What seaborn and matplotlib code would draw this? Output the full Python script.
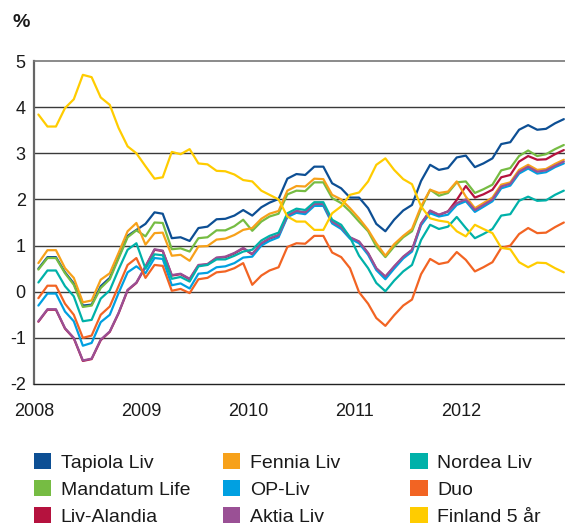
import numpy as np
import pandas as pd
import seaborn as sns
import matplotlib
matplotlib.use("Agg")
import matplotlib.pyplot as plt
from matplotlib.patches import Patch

# ---- data (monthly, Jan 2008 - Dec 2012), % ----
tapiola = [0.50, 0.75, 0.75, 0.42, 0.18, -0.30, -0.28, 0.12, 0.30, 0.75, 1.21, 1.34,
           1.47, 1.72, 1.69, 1.16, 1.18, 1.10, 1.38, 1.41, 1.57, 1.58, 1.65, 1.77,
           1.65, 1.83, 1.93, 2.01, 2.45, 2.55, 2.53, 2.71, 2.71, 2.35, 2.24, 2.04,
           2.04, 1.81, 1.47, 1.31, 1.56, 1.76, 1.88, 2.40, 2.75, 2.64, 2.68, 2.91,
           2.95, 2.70, 2.78, 2.89, 3.20, 3.24, 3.51, 3.61, 3.51, 3.53, 3.65, 3.74]
mandatum = [0.48, 0.73, 0.73, 0.40, 0.15, -0.33, -0.30, 0.08, 0.27, 0.72, 1.18, 1.33,
            1.20, 1.50, 1.49, 0.92, 0.94, 0.87, 1.16, 1.18, 1.33, 1.33, 1.42, 1.56,
            1.32, 1.52, 1.63, 1.69, 2.11, 2.19, 2.18, 2.37, 2.37, 2.03, 1.92, 1.74,
            1.52, 1.31, 0.98, 0.75, 0.98, 1.18, 1.31, 1.80, 2.21, 2.08, 2.14, 2.37,
            2.39, 2.14, 2.22, 2.32, 2.63, 2.68, 2.94, 3.06, 2.94, 2.98, 3.09, 3.18]
alandia = [-0.65, -0.39, -0.39, -0.80, -1.01, -1.50, -1.46, -1.05, -0.87, -0.47, 0.03, 0.19,
           0.54, 0.91, 0.88, 0.35, 0.38, 0.27, 0.57, 0.59, 0.73, 0.75, 0.83, 0.94,
           0.81, 1.04, 1.15, 1.22, 1.64, 1.74, 1.71, 1.89, 1.89, 1.51, 1.39, 1.17,
           1.08, 0.83, 0.50, 0.32, 0.54, 0.75, 0.90, 1.47, 1.75, 1.66, 1.74, 1.99,
           2.29, 2.04, 2.11, 2.21, 2.48, 2.53, 2.82, 2.94, 2.86, 2.87, 2.98, 3.07]
fennia = [0.62, 0.90, 0.90, 0.51, 0.30, -0.23, -0.19, 0.26, 0.40, 0.84, 1.31, 1.49,
          1.02, 1.27, 1.28, 0.78, 0.80, 0.67, 0.98, 0.99, 1.13, 1.15, 1.23, 1.34,
          1.38, 1.58, 1.69, 1.75, 2.19, 2.29, 2.28, 2.45, 2.44, 2.10, 2.00, 1.81,
          1.59, 1.34, 1.05, 0.78, 1.03, 1.21, 1.36, 1.85, 2.21, 2.14, 2.17, 2.39,
          2.06, 1.81, 1.92, 2.04, 2.32, 2.37, 2.64, 2.75, 2.64, 2.66, 2.77, 2.86]
op_liv = [-0.30, -0.04, -0.04, -0.43, -0.64, -1.17, -1.11, -0.66, -0.50, -0.03, 0.42, 0.55,
          0.40, 0.73, 0.71, 0.14, 0.18, 0.07, 0.39, 0.41, 0.53, 0.55, 0.62, 0.74,
          0.76, 1.00, 1.10, 1.18, 1.62, 1.71, 1.68, 1.86, 1.86, 1.48, 1.36, 1.15,
          1.05, 0.80, 0.47, 0.27, 0.50, 0.72, 0.87, 1.44, 1.70, 1.63, 1.67, 1.88,
          1.96, 1.73, 1.84, 1.96, 2.24, 2.30, 2.56, 2.67, 2.56, 2.59, 2.70, 2.78]
aktia = [-0.64, -0.38, -0.38, -0.79, -1.00, -1.49, -1.45, -1.04, -0.86, -0.46, 0.04, 0.20,
         0.55, 0.92, 0.89, 0.36, 0.39, 0.28, 0.58, 0.60, 0.74, 0.76, 0.84, 0.95,
         0.82, 1.05, 1.16, 1.23, 1.65, 1.75, 1.72, 1.90, 1.90, 1.52, 1.40, 1.18,
         1.09, 0.84, 0.51, 0.33, 0.55, 0.76, 0.91, 1.48, 1.76, 1.67, 1.74, 1.92,
         2.00, 1.77, 1.88, 2.00, 2.28, 2.34, 2.60, 2.71, 2.60, 2.63, 2.73, 2.82]
nordea = [0.20, 0.46, 0.46, 0.12, -0.10, -0.64, -0.61, -0.15, 0.03, 0.48, 0.91, 1.05,
          0.50, 0.81, 0.79, 0.28, 0.32, 0.22, 0.55, 0.58, 0.70, 0.70, 0.78, 0.87,
          0.91, 1.11, 1.21, 1.28, 1.70, 1.80, 1.77, 1.94, 1.94, 1.56, 1.45, 1.18,
          0.78, 0.51, 0.19, 0.01, 0.24, 0.44, 0.58, 1.12, 1.45, 1.36, 1.41, 1.62,
          1.38, 1.16, 1.25, 1.36, 1.65, 1.68, 1.97, 2.06, 1.97, 1.98, 2.10, 2.19]
duo = [-0.14, 0.13, 0.13, -0.26, -0.50, -1.00, -0.95, -0.50, -0.32, 0.12, 0.58, 0.73,
       0.30, 0.58, 0.56, 0.02, 0.06, -0.03, 0.27, 0.30, 0.42, 0.44, 0.51, 0.62,
       0.15, 0.35, 0.46, 0.53, 0.97, 1.05, 1.04, 1.21, 1.21, 0.85, 0.75, 0.51,
       -0.01, -0.26, -0.57, -0.74, -0.51, -0.30, -0.17, 0.38, 0.71, 0.60, 0.64, 0.86,
       0.69, 0.44, 0.53, 0.64, 0.95, 1.00, 1.25, 1.38, 1.27, 1.28, 1.40, 1.50]
finland5 = [3.84, 3.58, 3.58, 3.98, 4.17, 4.70, 4.65, 4.21, 4.05, 3.55, 3.15, 3.00,
            2.72, 2.45, 2.48, 3.03, 2.98, 3.09, 2.78, 2.76, 2.62, 2.61, 2.54, 2.42,
            2.39, 2.19, 2.10, 2.00, 1.63, 1.52, 1.52, 1.34, 1.34, 1.70, 1.85, 2.10,
            2.15, 2.39, 2.75, 2.89, 2.64, 2.44, 2.33, 1.85, 1.59, 1.54, 1.51, 1.31,
            1.20, 1.45, 1.36, 1.27, 0.95, 0.92, 0.64, 0.53, 0.63, 0.62, 0.51, 0.42]

series_names = ["Tapiola Liv", "Mandatum Life", "Liv-Alandia", "Fennia Liv", "OP-Liv",
                "Aktia Liv", "Nordea Liv", "Duo", "Finland 5 år"]
series_values = [tapiola, mandatum, alandia, fennia, op_liv, aktia, nordea, duo, finland5]
colors = ["#0d4f94", "#76bc43", "#b5123e", "#f7a11a", "#00a0e1",
          "#9a5095", "#00b1a9", "#f26423", "#ffcc00"]
year_ticks = [2008, 2009, 2010, 2011, 2012]

dates = pd.date_range("2008-01-01", periods=60, freq="MS") + pd.Timedelta(days=15)
df = pd.DataFrame({
    "date": np.tile(dates, len(series_names)),
    "value": np.concatenate(series_values),
    "series": np.repeat(series_names, 60),
})

sns.set_theme(style="white")
plt.rcParams["font.family"] = ["Liberation Sans", "DejaVu Sans"]

fig = plt.figure(figsize=(5.65, 5.26), dpi=100)
ax = fig.add_axes([34 / 565, 1 - 384 / 526, 531 / 565, 323 / 526])

sns.lineplot(data=df, x="date", y="value", hue="series", hue_order=series_names,
             palette=colors, linewidth=1.6, legend=False, ax=ax)

ax.set_xlim(pd.Timestamp("2008-01-01"), pd.Timestamp("2012-12-20"))
ax.set_ylim(-2, 5)
ax.set_xlabel("")
ax.set_ylabel("")

for v in range(-1, 5):
    ax.axhline(v, color="#3a3a3a", lw=1.0, zorder=0.5)

ax.set_yticks(range(-2, 6))
ax.set_yticklabels([str(v) for v in range(-2, 6)])
ax.set_xticks([pd.Timestamp(f"{y}-01-01") for y in year_ticks])
ax.set_xticklabels([str(y) for y in year_ticks])

for lab in ax.get_yticklabels() + ax.get_xticklabels():
    lab.set_fontsize(13)
    lab.set_color("#1a1a1a")

ax.tick_params(axis="y", length=0, pad=6)
ax.tick_params(axis="x", length=10, width=1.6, color="#555555", pad=4, direction="out")

ax.spines["right"].set_visible(False)
ax.spines["top"].set_color("#777777")
ax.spines["top"].set_linewidth(1.2)
ax.spines["left"].set_color("#666666")
ax.spines["left"].set_linewidth(1.6)
ax.spines["bottom"].set_color("#222222")
ax.spines["bottom"].set_linewidth(1.0)

fig.text(12.5 / 565, 1 - 27 / 526, "%", fontsize=14, fontweight="bold",
         va="baseline", ha="left", color="#1a1a1a")

col_x = [33.5 / 565, 222.7 / 565, 410 / 565]
for c in range(3):
    idx = range(c * 3, c * 3 + 3)
    handles = [Patch(facecolor=colors[i], edgecolor="none") for i in idx]
    labels = [series_names[i] for i in idx]
    fig.legend(handles, labels, loc="upper left",
               bbox_to_anchor=(col_x[c], 1 - 453 / 526),
               frameon=False, borderpad=0, borderaxespad=0,
               handlelength=0.9, handleheight=0.9, handletextpad=0.5,
               labelspacing=0.43, fontsize=14, labelcolor="#1a1a1a")

fig.savefig("out.png", dpi=100)
